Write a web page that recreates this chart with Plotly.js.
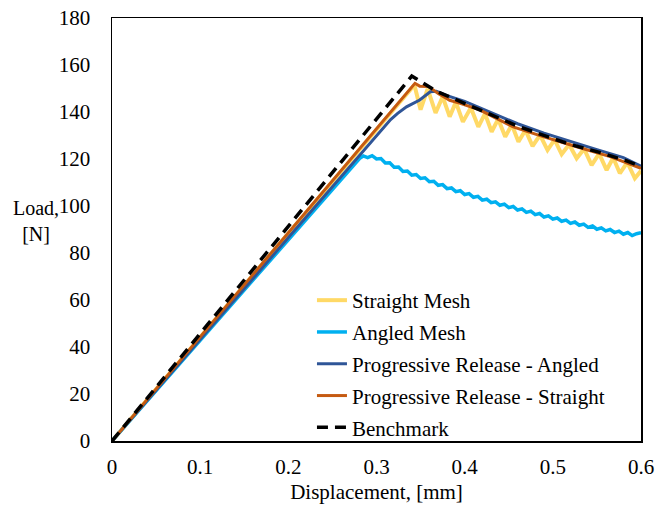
<!DOCTYPE html>
<html>
<head>
<meta charset="utf-8">
<script src="https://cdn.plot.ly/plotly-3.0.1.min.js"></script>
<style>html,body{margin:0;padding:0;background:#fff;}#chart{width:657px;height:510px;}</style>
</head>
<body>
<div id="chart"></div>
<script>
// Series names
const seriesNames = ["Straight Mesh", "Angled Mesh", "Progressive Release - Angled", "Progressive Release - Straight", "Benchmark"];

// Straight Mesh (sawtooth after peak)
const straightX = [0, 0.343, 0.350, 0.358, 0.367, 0.375, 0.383, 0.390, 0.398, 0.407, 0.4155, 0.423, 0.4306, 0.438, 0.446, 0.4535, 0.461, 0.469, 0.477, 0.4855, 0.494, 0.502, 0.510, 0.5185, 0.527, 0.5355, 0.544, 0.5525, 0.561, 0.5685, 0.576, 0.5845, 0.593, 0.600];
const straightY = [0, 151.5, 141.0, 149.8, 139.6, 146.5, 138.0, 144.2, 135.8, 141.8, 133.7, 139.3, 131.6, 137.0, 129.5, 134.6, 127.3, 132.3, 125.5, 130.2, 123.8, 128.2, 122.0, 126.2, 120.3, 124.3, 117.4, 122.3, 115.3, 120.5, 113.9, 118.6, 111.8, 115.0];

// Angled Mesh
const angledX = [0, 0.281, 0.285, 0.29, 0.295, 0.30, 0.305, 0.31, 0.315, 0.32, 0.325, 0.33, 0.335, 0.34, 0.345, 0.35, 0.355, 0.36, 0.365, 0.37, 0.375, 0.38, 0.385, 0.39, 0.395, 0.40, 0.405, 0.41, 0.415, 0.42, 0.425, 0.43, 0.435, 0.44, 0.445, 0.45, 0.455, 0.46, 0.465, 0.47, 0.475, 0.48, 0.485, 0.49, 0.495, 0.50, 0.505, 0.51, 0.515, 0.52, 0.525, 0.53, 0.535, 0.54, 0.545, 0.55, 0.555, 0.56, 0.565, 0.57, 0.575, 0.58, 0.585, 0.59, 0.595, 0.60];
const angledY = [0, 120.3, 121.3, 120.6, 121.4, 120.0, 120.2, 118.3, 118.4, 116.5, 116.6, 114.7, 114.9, 113.1, 113.4, 111.7, 112.0, 110.3, 110.5, 108.8, 109.1, 107.4, 107.7, 106.1, 106.5, 104.9, 105.3, 103.7, 104.1, 102.5, 102.9, 101.4, 101.8, 100.3, 100.8, 99.3, 99.8, 98.3, 98.8, 97.3, 97.8, 96.3, 96.8, 95.3, 95.8, 94.4, 94.9, 93.5, 94.0, 92.6, 93.2, 91.8, 92.3, 90.9, 91.5, 90.1, 90.7, 89.4, 90.0, 88.7, 89.3, 88.0, 88.7, 87.4, 88.2, 88.6];

// Progressive Release - Angled
const prAngledX = [0, 0.316, 0.324, 0.334, 0.349, 0.361, 0.368, 0.38, 0.40, 0.43, 0.46, 0.49, 0.52, 0.55, 0.58, 0.60];
const prAngledY = [0, 136.8, 139.4, 142.2, 145.1, 148.6, 148.8, 147.0, 144.5, 139.8, 135.0, 131.0, 127.4, 124.0, 120.6, 117.0];

// Progressive Release - Straight
const prStraightX = [0, 0.3436, 0.349, 0.359, 0.370, 0.383, 0.395, 0.417, 0.455, 0.489, 0.527, 0.565, 0.60];
const prStraightY = [0, 152.2, 151.0, 150.8, 147.9, 145.0, 143.7, 140.9, 133.7, 129.5, 125.2, 121.0, 116.0];

// Benchmark
const benchX = [0, 0.340, 0.368, 0.40, 0.432, 0.46, 0.493, 0.52, 0.553, 0.58, 0.60];
const benchY = [0, 155.3, 148.8, 143.6, 138.2, 134.0, 129.6, 126.2, 122.8, 119.7, 116.8];

// Axis ticks
const xTicks = [0, 0.1, 0.2, 0.3, 0.4, 0.5, 0.6];
const xTickLabels = ["0", "0.1", "0.2", "0.3", "0.4", "0.5", "0.6"];
const yTicks = [0, 20, 40, 60, 80, 100, 120, 140, 160, 180];
const yTickLabels = ["0", "20", "40", "60", "80", "100", "120", "140", "160", "180"];

const FONT = "'Liberation Serif', 'Times New Roman', serif";

const traces = [
  {x: straightX, y: straightY, name: seriesNames[0], legendgroup: "g1", mode: "lines", line: {color: "#FFD966", width: 4}},
  {x: angledX, y: angledY, name: seriesNames[1], legendgroup: "g2", mode: "lines", line: {color: "#00B0F0", width: 3.5}},
  {x: prAngledX, y: prAngledY, name: seriesNames[2], legendgroup: "g3", mode: "lines", line: {color: "#2F5597", width: 3}},
  {x: prStraightX, y: prStraightY, name: seriesNames[3], legendgroup: "g4", mode: "lines", line: {color: "#C55A11", width: 3}},
  {x: benchX, y: benchY, name: seriesNames[4], legendgroup: "g5", mode: "lines", line: {color: "#000000", width: 3.5, dash: "11px,7px"}}
];

const layout = {
  width: 657, height: 510,
  margin: {l: 112, r: 16, t: 18, b: 69},
  paper_bgcolor: "#ffffff", plot_bgcolor: "#ffffff",
  font: {family: FONT, size: 21, color: "#000000"},
  showlegend: true,
  legend: {x: 0.378, y: 0.3806, xanchor: "left", yanchor: "top", bgcolor: "rgba(0,0,0,0)",
           traceorder: "grouped", tracegroupgap: 1.5, font: {family: FONT, size: 21, color: "#000"}},
  xaxis: {range: [0, 0.6], tickvals: xTicks, ticktext: xTickLabels, showgrid: false, zeroline: false,
          showline: true, mirror: true, linecolor: "#000", linewidth: 1.5, ticks: "", ticklabelstandoff: 6,
          tickfont: {family: FONT, size: 21},
          title: {text: "Displacement, [mm]", font: {family: FONT, size: 21}, standoff: 6}},
  yaxis: {range: [0, 180], tickvals: yTicks, ticktext: yTickLabels, showgrid: false, zeroline: false,
          showline: true, mirror: true, linecolor: "#000", linewidth: 1.5, ticks: "", ticklabelstandoff: 16,
          tickfont: {family: FONT, size: 21}},
  annotations: [
    {text: "Load,<br>[N]", xref: "paper", yref: "paper", x: -0.1437, y: 0.52, xanchor: "center", yanchor: "middle",
     showarrow: false, align: "center", font: {family: FONT, size: 20, color: "#000"}}
  ]
};

Plotly.newPlot("chart", traces, layout, {displayModeBar: false, staticPlot: true});
</script>
</body>
</html>
